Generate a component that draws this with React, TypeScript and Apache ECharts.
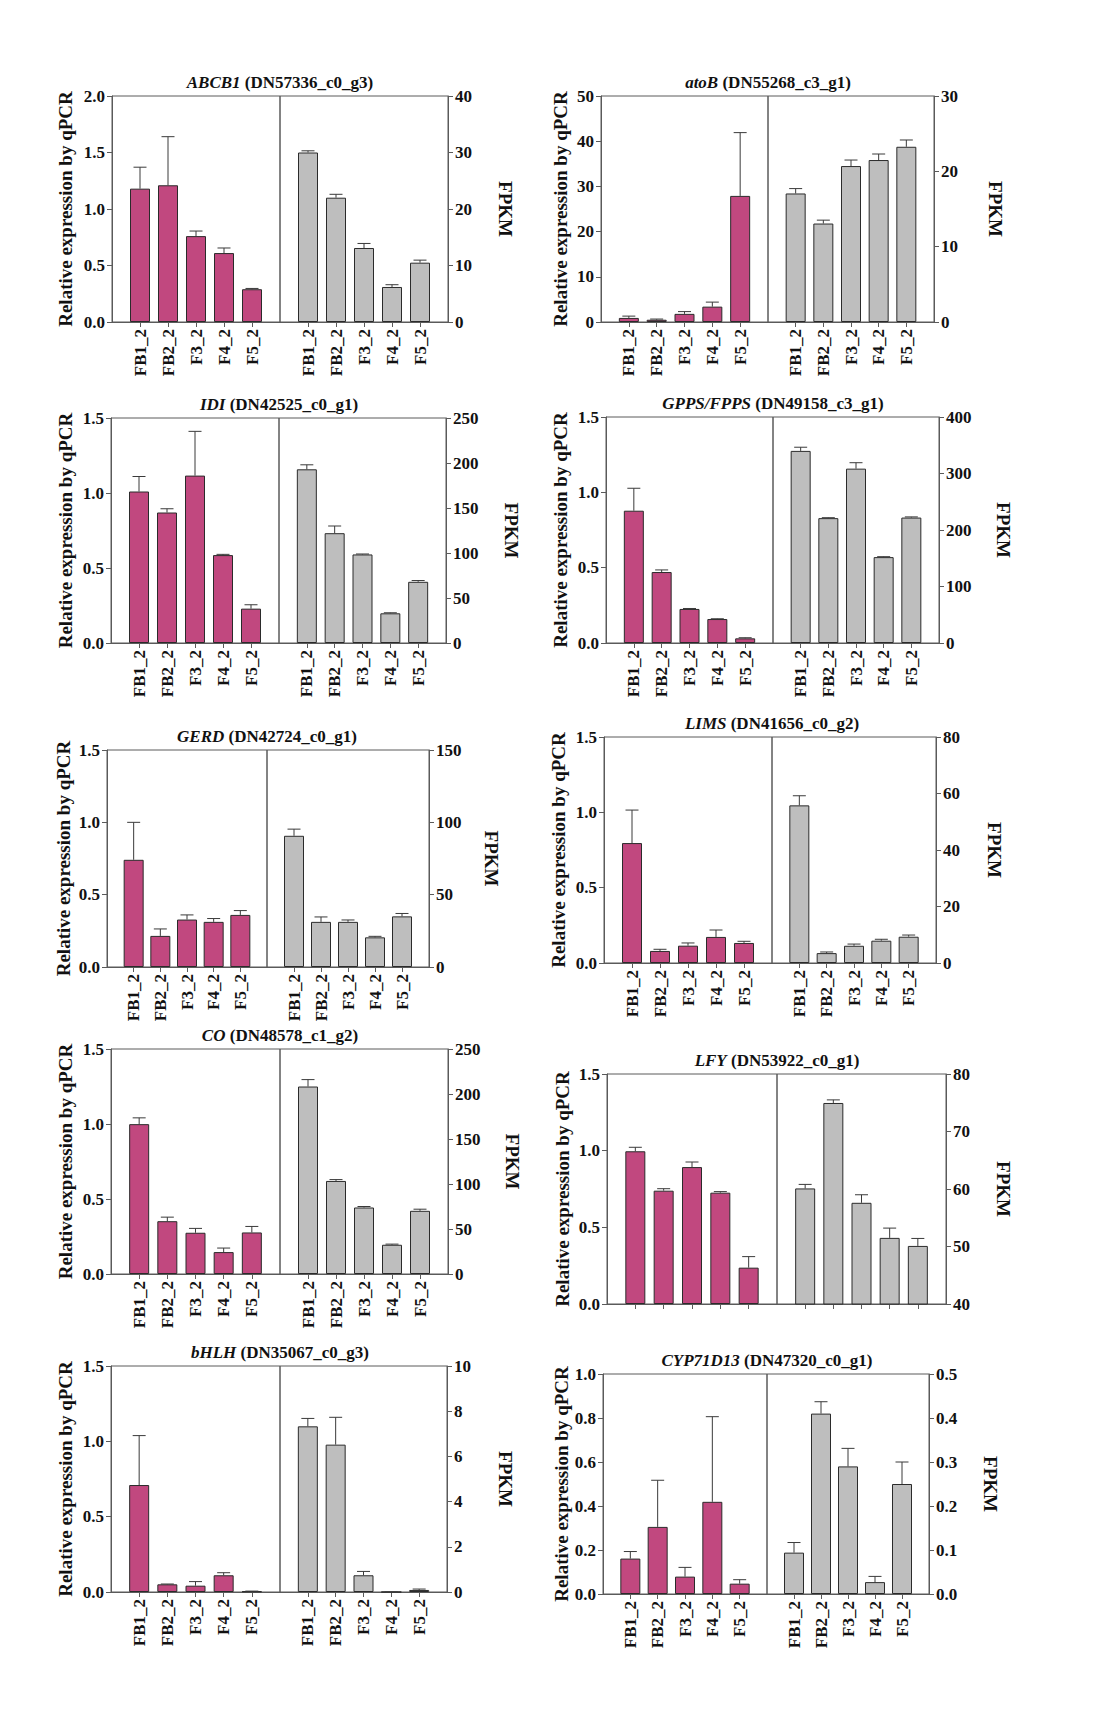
import React, { useEffect, useRef } from "react";
import * as echarts from "echarts";

const categories = ["FB1_2", "FB2_2", "F3_2", "F4_2", "F5_2"];

// ABCB1 (DN57336_c0_g3)
const abcb1Qpcr = [1.18, 1.21, 0.76, 0.61, 0.29];
const abcb1QpcrSd = [0.19, 0.43, 0.045, 0.045, 0.007];
const abcb1Fpkm = [30.0, 22.0, 13.1, 6.2, 10.5];
const abcb1FpkmSd = [0.3, 0.6, 0.8, 0.4, 0.45];

// atoB (DN55268_c3_g1)
const atobQpcr = [0.9, 0.5, 1.8, 3.4, 27.9];
const atobQpcrSd = [0.4, 0.15, 0.5, 1.0, 14.0];
const atobFpkm = [17.06, 13.07, 20.7, 21.5, 23.26];
const atobFpkmSd = [0.65, 0.45, 0.8, 0.8, 0.9];

// IDI (DN42525_c0_g1)
const idiQpcr = [1.01, 0.87, 1.116, 0.586, 0.229];
const idiQpcrSd = [0.1, 0.025, 0.295, 0.005, 0.026];
const idiFpkm = [193, 122, 98.4, 33, 68];
const idiFpkmSd = [5, 8, 0.5, 0.6, 1.4];

// GPPS/FPPS (DN49158_c3_g1)
const gppsQpcr = [0.878, 0.471, 0.226, 0.159, 0.031];
const gppsQpcrSd = [0.149, 0.014, 0.003, 0.002, 0.004];
const gppsFpkm = [340, 221, 308.6, 152, 222];
const gppsFpkmSd = [6.5, 0.8, 10.5, 0.8, 1.2];

// GERD (DN42724_c0_g1)
const gerdQpcr = [0.741, 0.215, 0.328, 0.312, 0.36];
const gerdQpcrSd = [0.259, 0.048, 0.032, 0.023, 0.03];
const gerdFpkm = [90.7, 31.2, 31.2, 20.5, 35];
const gerdFpkmSd = [4.6, 3.4, 1.3, 0.7, 2];

// LIMS (DN41656_c0_g2)
const limsQpcr = [0.796, 0.08, 0.115, 0.173, 0.133];
const limsQpcrSd = [0.219, 0.011, 0.018, 0.046, 0.011];
const limsFpkm = [55.8, 3.5, 6.1, 7.9, 9.3];
const limsFpkmSd = [3.4, 0.4, 0.6, 0.5, 0.6];

// CO (DN48578_c1_g2)
const coQpcr = [0.999, 0.352, 0.275, 0.146, 0.277];
const coQpcrSd = [0.042, 0.027, 0.029, 0.027, 0.04];
const coFpkm = [208.3, 103.4, 73.9, 32.5, 70.2];
const coFpkmSd = [7.7, 1.5, 1.1, 0.7, 1.8];

// LFY (DN53922_c0_g1)
const lfyQpcr = [0.996, 0.739, 0.893, 0.726, 0.237];
const lfyQpcrSd = [0.026, 0.013, 0.033, 0.007, 0.072];
const lfyFpkm = [60.1, 74.96, 57.6, 51.5, 50.1];
const lfyFpkmSd = [0.7, 0.54, 1.4, 1.7, 1.3];

// bHLH (DN35067_c0_g3)
const bhlhQpcr = [0.71, 0.051, 0.042, 0.111, 0.004];
const bhlhQpcrSd = [0.328, 0.002, 0.027, 0.017, 0.002];
const bhlhFpkm = [7.33, 6.52, 0.74, 0, 0.09];
const bhlhFpkmSd = [0.35, 1.21, 0.17, 0, 0.04];

// CYP71D13 (DN47320_c0_g1)
const cypQpcr = [0.161, 0.305, 0.079, 0.419, 0.047];
const cypQpcrSd = [0.032, 0.212, 0.042, 0.387, 0.018];
const cypFpkm = [0.094, 0.41, 0.29, 0.027, 0.25];
const cypFpkmSd = [0.023, 0.027, 0.041, 0.013, 0.05];

const genes = [
  { gene: "ABCB1", id: "DN57336_c0_g3", qpcr: abcb1Qpcr, qpcrSd: abcb1QpcrSd, fpkm: abcb1Fpkm, fpkmSd: abcb1FpkmSd, qMax: 2, qStep: 0.5, fMin: 0, fMax: 40, fStep: 10, labels: true },
  { gene: "atoB", id: "DN55268_c3_g1", qpcr: atobQpcr, qpcrSd: atobQpcrSd, fpkm: atobFpkm, fpkmSd: atobFpkmSd, qMax: 50, qStep: 10, fMin: 0, fMax: 30, fStep: 10, labels: true },
  { gene: "IDI", id: "DN42525_c0_g1", qpcr: idiQpcr, qpcrSd: idiQpcrSd, fpkm: idiFpkm, fpkmSd: idiFpkmSd, qMax: 1.5, qStep: 0.5, fMin: 0, fMax: 250, fStep: 50, labels: true },
  { gene: "GPPS/FPPS", id: "DN49158_c3_g1", qpcr: gppsQpcr, qpcrSd: gppsQpcrSd, fpkm: gppsFpkm, fpkmSd: gppsFpkmSd, qMax: 1.5, qStep: 0.5, fMin: 0, fMax: 400, fStep: 100, labels: true },
  { gene: "GERD", id: "DN42724_c0_g1", qpcr: gerdQpcr, qpcrSd: gerdQpcrSd, fpkm: gerdFpkm, fpkmSd: gerdFpkmSd, qMax: 1.5, qStep: 0.5, fMin: 0, fMax: 150, fStep: 50, labels: true },
  { gene: "LIMS", id: "DN41656_c0_g2", qpcr: limsQpcr, qpcrSd: limsQpcrSd, fpkm: limsFpkm, fpkmSd: limsFpkmSd, qMax: 1.5, qStep: 0.5, fMin: 0, fMax: 80, fStep: 20, labels: true },
  { gene: "CO", id: "DN48578_c1_g2", qpcr: coQpcr, qpcrSd: coQpcrSd, fpkm: coFpkm, fpkmSd: coFpkmSd, qMax: 1.5, qStep: 0.5, fMin: 0, fMax: 250, fStep: 50, labels: true },
  { gene: "LFY", id: "DN53922_c0_g1", qpcr: lfyQpcr, qpcrSd: lfyQpcrSd, fpkm: lfyFpkm, fpkmSd: lfyFpkmSd, qMax: 1.5, qStep: 0.5, fMin: 40, fMax: 80, fStep: 10, labels: false },
  { gene: "bHLH", id: "DN35067_c0_g3", qpcr: bhlhQpcr, qpcrSd: bhlhQpcrSd, fpkm: bhlhFpkm, fpkmSd: bhlhFpkmSd, qMax: 1.5, qStep: 0.5, fMin: 0, fMax: 10, fStep: 2, labels: true },
  { gene: "CYP71D13", id: "DN47320_c0_g1", qpcr: cypQpcr, qpcrSd: cypQpcrSd, fpkm: cypFpkm, fpkmSd: cypFpkmSd, qMax: 1.0, qStep: 0.2, fMin: 0, fMax: 0.5, fStep: 0.1, labels: true },
];

// panel frames in page pixels: left axis, divider, right axis, top, bottom
const frames = [
  { l: 112, m: 280, r: 448, t: 96, b: 322, qGap: 37, fGap: 48 },
  { l: 601, m: 768, r: 934, t: 96, b: 322, qGap: 31, fGap: 52 },
  { l: 111, m: 279, r: 446, t: 418, b: 643, qGap: 36, fGap: 56 },
  { l: 606, m: 773, r: 939, t: 417, b: 643, qGap: 36, fGap: 55 },
  { l: 107, m: 267, r: 429, t: 750, b: 967, qGap: 34, fGap: 53 },
  { l: 604, m: 772, r: 936, t: 737, b: 963, qGap: 36, fGap: 49 },
  { l: 111, m: 280, r: 448, t: 1049, b: 1274, qGap: 36, fGap: 55 },
  { l: 607, m: 777, r: 946, t: 1074, b: 1304, qGap: 35, fGap: 48 },
  { l: 111, m: 280, r: 447, t: 1366, b: 1592, qGap: 36, fGap: 49 },
  { l: 603, m: 767, r: 929, t: 1374, b: 1594, qGap: 32, fGap: 52 },
];

const FONT = '"Liberation Serif", "Times New Roman", serif';
const AXIS = "#5a5a5a";
const MAGENTA = "#c1487f";
const GRAY = "#bebebe";
const slots = ["", ...categories, ""];

const pad = (a: number[]) => [null, ...a, null];
const errData = (v: number[], sd: number[]) => v.map((val, i) => [i + 1, val, val + sd[i]]);

const errorBars = (params: any, api: any) => {
  const x = api.value(0);
  const base = api.coord([x, api.value(1)]);
  const top = api.coord([x, api.value(2)]);
  const half = 6.5;
  const style = { stroke: "#3a3a3a", lineWidth: 1 };
  return {
    type: "group",
    children: [
      { type: "line", shape: { x1: base[0], y1: base[1], x2: top[0], y2: top[1] }, style },
      { type: "line", shape: { x1: top[0] - half, y1: top[1], x2: top[0] + half, y2: top[1] }, style },
    ],
  };
};

const tickFmt = (step: number) => (v: number) => (step < 1 ? v.toFixed(1) : String(Math.round(v)));

const buildOption = () => {
  const grid: any[] = [];
  const xAxis: any[] = [];
  const yAxis: any[] = [];
  const series: any[] = [];
  const title: any[] = [];

  genes.forEach((g, k) => {
    const f = frames[k];
    const gi = grid.length;
    grid.push(
      { left: f.l, top: f.t, width: f.m - f.l, height: f.b - f.t, show: true, borderColor: AXIS, borderWidth: 1 },
      { left: f.m, top: f.t, width: f.r - f.m, height: f.b - f.t, show: true, borderColor: AXIS, borderWidth: 1 }
    );
    [gi, gi + 1].forEach((idx) =>
      xAxis.push({
        type: "category",
        gridIndex: idx,
        data: slots,
        boundaryGap: false,
        axisLine: { lineStyle: { color: AXIS, width: 1 } },
        axisTick: { interval: (i: number, v: string) => v !== "", length: 5, lineStyle: { color: AXIS } },
        axisLabel: {
          show: g.labels,
          interval: 0,
          rotate: 90,
          margin: 7,
          fontFamily: FONT,
          fontWeight: "bold",
          fontSize: 17,
          color: "#111",
        },
      })
    );
    const axisCommon = {
      type: "value",
      nameLocation: "middle",
      nameTextStyle: { fontFamily: FONT, fontWeight: "bold", fontSize: 19, color: "#111" },
      axisLine: { show: true, lineStyle: { color: AXIS, width: 1 } },
      axisTick: { show: true, length: 5, lineStyle: { color: AXIS } },
      splitLine: { show: false },
    };
    yAxis.push(
      {
        ...axisCommon,
        gridIndex: gi,
        position: "left",
        min: 0,
        max: g.qMax,
        interval: g.qStep,
        name: "Relative expression by qPCR",
        nameGap: f.qGap,
        axisLabel: { margin: 7, fontFamily: FONT, fontWeight: "bold", fontSize: 17, color: "#111", formatter: tickFmt(g.qStep) },
      },
      {
        ...axisCommon,
        gridIndex: gi + 1,
        position: "right",
        min: g.fMin,
        max: g.fMax,
        interval: g.fStep,
        name: "FPKM",
        nameRotate: -90,
        nameGap: f.fGap,
        axisLabel: { margin: 7, fontFamily: FONT, fontWeight: "bold", fontSize: 17, color: "#111", formatter: tickFmt(g.fStep) },
      }
    );
    series.push(
      {
        type: "bar",
        xAxisIndex: gi,
        yAxisIndex: gi,
        data: pad(g.qpcr),
        barWidth: 20,
        itemStyle: { color: MAGENTA, borderColor: "#2b2b2b", borderWidth: 1 },
      },
      {
        type: "custom",
        xAxisIndex: gi,
        yAxisIndex: gi,
        data: errData(g.qpcr, g.qpcrSd),
        renderItem: errorBars,
        z: 3,
      },
      {
        type: "bar",
        xAxisIndex: gi + 1,
        yAxisIndex: gi + 1,
        data: pad(g.fpkm),
        barWidth: 20,
        itemStyle: { color: GRAY, borderColor: "#2b2b2b", borderWidth: 1 },
      },
      {
        type: "custom",
        xAxisIndex: gi + 1,
        yAxisIndex: gi + 1,
        data: errData(g.fpkm, g.fpkmSd),
        renderItem: errorBars,
        z: 3,
      }
    );
    title.push({
      text: `{i|${g.gene}} (${g.id})`,
      left: f.m,
      top: f.t - 22,
      padding: 0,
      textAlign: "center",
      textVerticalAlign: "top",
      textStyle: {
        fontFamily: FONT,
        fontWeight: "bold",
        fontSize: 17,
        color: "#111",
        rich: { i: { fontFamily: FONT, fontWeight: "bold", fontStyle: "italic", fontSize: 17, color: "#111" } },
      },
    });
  });

  return { animation: false, backgroundColor: "#fff", title, grid, xAxis, yAxis, series };
};

const App = () => {
  const chartRef = useRef<HTMLDivElement>(null);

  useEffect(() => {
    document.body.style.margin = "0";
    if (chartRef.current) {
      const chart = echarts.init(chartRef.current, undefined, { renderer: "svg" });
      chart.setOption(buildOption() as any);
      return () => {
        chart.dispose();
      };
    }
  }, []);

  return <div ref={chartRef} style={{ width: "1103px", height: "1724px" }} />;
};

export default App;
